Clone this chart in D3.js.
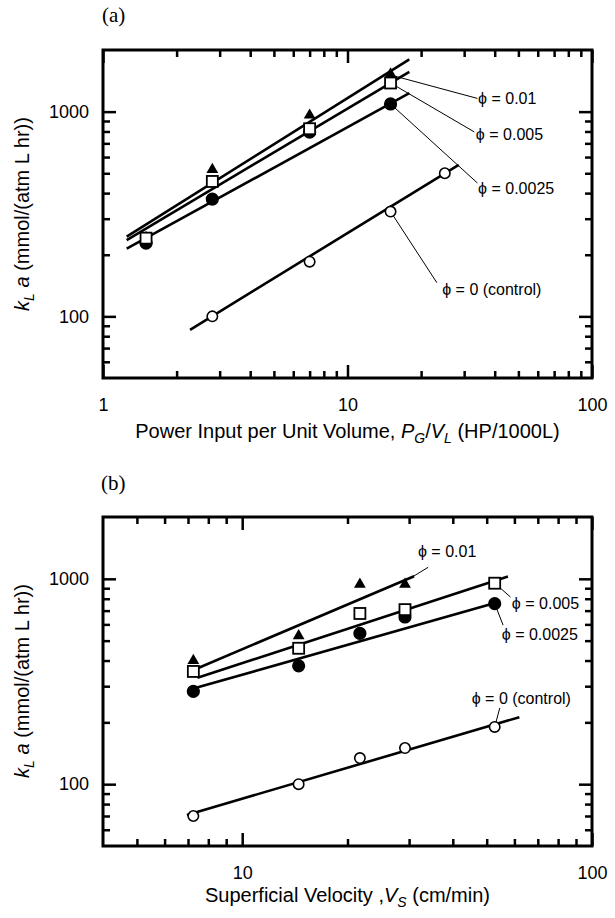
<!DOCTYPE html>
<html lang="en">
<head>
<meta charset="UTF-8">
<title>kLa vs power input and superficial velocity</title>
<script src="https://d3js.org/d3.v7.min.js"></script>
<style>
  body { margin: 0; background: white; }
  svg { display: block; background: white; }
  text { font-family: "Liberation Sans", Arial, Helvetica, sans-serif; fill: black; }
  .tick line { stroke: black; stroke-width: 2.5; }
  .domain { display: none; }
  .frame { fill: none; stroke: black; stroke-width: 3; }
  .fit { fill: none; stroke: black; stroke-width: 2.6; }
  .leader { stroke: black; stroke-width: 1; }
  .panel-tag { font-family: "Liberation Serif", "Times New Roman", serif; font-size: 21px; }
</style>
</head>
<body>
<script>
const width = 615;
const height = 918;

// ---- panel (a): kLa vs power input per unit volume ----
const aPower = [1.5, 2.8, 7, 15];
const aCtrlPower = [2.8, 7, 15, 25];
const aKla01 = [240, 515, 950, 1510];
const aKla005 = [241, 456, 825, 1380];
const aKla0025 = [228, 374, 795, 1090];
const aKlaCtrl = [100, 185, 325, 500];
const aFit01 = [[1.25, 245], [17.9, 1800]];
const aFit005 = [[1.25, 236], [17.9, 1565]];
const aFit0025 = [[1.25, 214], [17.9, 1230]];
const aFitCtrl = [[2.27, 86], [28.5, 550]];
const aLabels = ['ϕ = 0.01', 'ϕ = 0.005', 'ϕ = 0.0025', 'ϕ = 0 (control)'];
const aLeadFrom = [[15, 1510], [15, 1380], [15, 1090], [15, 325]];
const aLeadTo = [[34, 1160], [33, 796], [34, 448], [23.2, 146]];
const aLabelAt = [[34.2, 1154], [33.5, 770], [34.2, 420], [24.4, 135]];
const aXMajor = [1, 10, 100];
const aXTickLabels = ['1', '10', '100'];
const aXMinor = [2, 3, 4, 5, 6, 7, 8, 9, 20, 30, 40, 50, 60, 70, 80, 90];

// ---- panel (b): kLa vs superficial velocity ----
const bVel = [7.25, 14.5, 21.7, 29.2, 52.7];
const bVel01 = [7.25, 14.5, 21.7, 29.2];
const bKla01 = [395, 522, 929, 929];
const bKla005 = [354, 459, 678, 708, 952];
const bKla0025 = [283, 377, 542, 652, 757];
const bKlaCtrl = [70, 100, 134, 150, 190];
const bFit01 = [[7.4, 365], [31, 1030]];
const bFit005 = [[7.45, 330], [57.5, 1026]];
const bFit0025 = [[7.25, 292], [51, 750]];
const bFitCtrl = [[6.95, 70.8], [62, 212]];
const bLabels = ['ϕ = 0.01', 'ϕ = 0.005', 'ϕ = 0.0025', 'ϕ = 0 (control)'];
const bLeadFrom = [[30.8, 1026], [52.7, 952], [52.7, 757], [52.7, 190]];
const bLeadTo = [[34, 1138], [58.5, 815], [55.7, 595], [54.5, 235]];
const bLabelAt = [[31.8, 1355], [59, 757], [55.2, 536], [45.3, 263]];
const bXMajor = [10, 100];
const bXTickLabels = ['10', '100'];
const bXMinor = [5, 6, 7, 8, 9, 20, 30, 40, 50, 60, 70, 80, 90];

// shared y ticks
const yMajor = [100, 1000];
const yTickLabels = ['100', '1000'];
const yMinor = [60, 70, 80, 90, 200, 300, 400, 500, 600, 700, 800, 900];

const svg = d3.select('body')
              .append('svg')
              .attr('width', width)
              .attr('height', height);

function drawAxes(g, x, y, xMajor, xLabels, xMinor) {
    const [x0, x1] = x.range();
    const [y0, y1] = y.range();
    const major = 13, minor = 7;

    // bottom (labelled) and top
    g.append('g').attr('transform', `translate(0,${y0})`)
        .call(d3.axisBottom(x).tickValues(xMajor).tickSize(-major).tickPadding(20)
            .tickFormat((d, i) => xLabels[i]))
        .attr('font-size', 18).attr('font-family', null);
    g.append('g').attr('transform', `translate(0,${y0})`)
        .call(d3.axisBottom(x).tickValues(xMinor).tickSize(-minor).tickFormat(''));
    g.append('g').attr('transform', `translate(0,${y1})`)
        .call(d3.axisTop(x).tickValues(xMajor).tickSize(-major).tickFormat(''));
    g.append('g').attr('transform', `translate(0,${y1})`)
        .call(d3.axisTop(x).tickValues(xMinor).tickSize(-minor).tickFormat(''));

    // left (labelled) and right
    g.append('g').attr('transform', `translate(${x0},0)`)
        .call(d3.axisLeft(y).tickValues(yMajor).tickSize(-major).tickPadding(14)
            .tickFormat((d, i) => yTickLabels[i]))
        .attr('font-size', 18).attr('font-family', null);
    g.append('g').attr('transform', `translate(${x0},0)`)
        .call(d3.axisLeft(y).tickValues(yMinor).tickSize(-minor).tickFormat(''));
    g.append('g').attr('transform', `translate(${x1},0)`)
        .call(d3.axisRight(y).tickValues(yMajor).tickSize(-major).tickFormat(''));
    g.append('g').attr('transform', `translate(${x1},0)`)
        .call(d3.axisRight(y).tickValues(yMinor).tickSize(-minor).tickFormat(''));

    g.append('rect')
        .attr('class', 'frame')
        .attr('x', x0).attr('y', y1)
        .attr('width', x1 - x0).attr('height', y0 - y1);
}

function drawFits(g, x, y, fits) {
    const line = d3.line().x(d => x(d[0])).y(d => y(d[1]));
    g.selectAll(null)
        .data(fits)
        .join('path')
        .attr('class', 'fit')
        .attr('d', d => line(d));
}

function drawMarkers(g, x, y, xs, ys, kind) {
    const pts = xs.map((v, i) => [v, ys[i]]);
    if (kind === 'tri') {
        g.selectAll(null).data(pts).join('path')
            .attr('d', d3.symbol().type(d3.symbolTriangle).size(60))
            .attr('transform', d => `translate(${x(d[0])},${y(d[1]) - 1})`)
            .attr('fill', 'black');
    } else if (kind === 'sq') {
        g.selectAll(null).data(pts).join('rect')
            .attr('x', d => x(d[0]) - 5.5).attr('y', d => y(d[1]) - 5.5)
            .attr('width', 11).attr('height', 11)
            .attr('fill', 'white').attr('stroke', 'black').attr('stroke-width', 1.8);
    } else {
        g.selectAll(null).data(pts).join('circle')
            .attr('cx', d => x(d[0])).attr('cy', d => y(d[1]))
            .attr('r', kind === 'dot' ? 5.8 : 5.2)
            .attr('fill', kind === 'dot' ? 'black' : 'white')
            .attr('stroke', 'black').attr('stroke-width', 1.6);
    }
}

function drawLabels(g, x, y, labels, from, to, at) {
    labels.forEach((t, i) => {
        g.append('line').attr('class', 'leader')
            .attr('x1', x(from[i][0])).attr('y1', y(from[i][1]))
            .attr('x2', x(to[i][0])).attr('y2', y(to[i][1]));
        g.append('text')
            .attr('x', x(at[i][0])).attr('y', y(at[i][1]))
            .attr('dy', '0.35em')
            .attr('font-size', 16)
            .text(t);
    });
}

// k_L a (mmol/(atm L hr)) rotated title
function yTitle(cx, cy) {
    const t = svg.append('text')
        .attr('transform', `translate(${cx},${cy}) rotate(-90)`)
        .attr('text-anchor', 'middle')
        .attr('font-size', 20);
    t.append('tspan').attr('font-style', 'italic').text('k');
    t.append('tspan').attr('font-style', 'italic').attr('font-size', 14).attr('dy', 5).text('L');
    t.append('tspan').attr('font-style', 'italic').attr('dy', -5).text(' a');
    t.append('tspan').text(' (mmol/(atm L hr))');
}

// ---------- panel (a) ----------
const xA = d3.scaleLog().domain([1, 100]).range([103, 592]);
const yA = d3.scaleLog().domain([50, 2000]).range([378, 50]);
const gA = svg.append('g');

svg.append('text').attr('class', 'panel-tag').attr('x', 102).attr('y', 22).text('(a)');
drawAxes(gA, xA, yA, aXMajor, aXTickLabels, aXMinor);
drawFits(gA, xA, yA, [aFit01, aFit005, aFit0025, aFitCtrl]);
drawLabels(gA, xA, yA, aLabels, aLeadFrom, aLeadTo, aLabelAt);
drawMarkers(gA, xA, yA, aPower, aKla01, 'tri');
drawMarkers(gA, xA, yA, aPower, aKla0025, 'dot');
drawMarkers(gA, xA, yA, aPower, aKla005, 'sq');
drawMarkers(gA, xA, yA, aCtrlPower, aKlaCtrl, 'open');

const tA = svg.append('text')
    .attr('x', 347.5).attr('y', 438)
    .attr('text-anchor', 'middle')
    .attr('font-size', 20);
tA.append('tspan').text('Power Input per Unit Volume, ');
tA.append('tspan').attr('font-style', 'italic').text('P');
tA.append('tspan').attr('font-style', 'italic').attr('font-size', 14).attr('dy', 5).text('G');
tA.append('tspan').attr('dy', -5).text('/');
tA.append('tspan').attr('font-style', 'italic').text('V');
tA.append('tspan').attr('font-style', 'italic').attr('font-size', 14).attr('dy', 5).text('L');
tA.append('tspan').attr('dy', -5).text(' (HP/1000L)');
yTitle(29, 214);

// ---------- panel (b) ----------
const xB = d3.scaleLog().domain([4, 100]).range([103, 592]);
const yB = d3.scaleLog().domain([50, 2000]).range([846, 517]);
const gB = svg.append('g');

svg.append('text').attr('class', 'panel-tag').attr('x', 101).attr('y', 490).text('(b)');
drawAxes(gB, xB, yB, bXMajor, bXTickLabels, bXMinor);
drawFits(gB, xB, yB, [bFit01, bFit005, bFit0025, bFitCtrl]);
drawLabels(gB, xB, yB, bLabels, bLeadFrom, bLeadTo, bLabelAt);
drawMarkers(gB, xB, yB, bVel01, bKla01, 'tri');
drawMarkers(gB, xB, yB, bVel, bKla0025, 'dot');
drawMarkers(gB, xB, yB, bVel, bKla005, 'sq');
drawMarkers(gB, xB, yB, bVel, bKlaCtrl, 'open');

const tB = svg.append('text')
    .attr('x', 347.5).attr('y', 902)
    .attr('text-anchor', 'middle')
    .attr('font-size', 20);
tB.append('tspan').text('Superficial Velocity ,');
tB.append('tspan').attr('font-style', 'italic').text('V');
tB.append('tspan').attr('font-style', 'italic').attr('font-size', 14).attr('dy', 5).text('S');
tB.append('tspan').attr('dy', -5).text(' (cm/min)');
yTitle(29, 681);
</script>
</body>
</html>
